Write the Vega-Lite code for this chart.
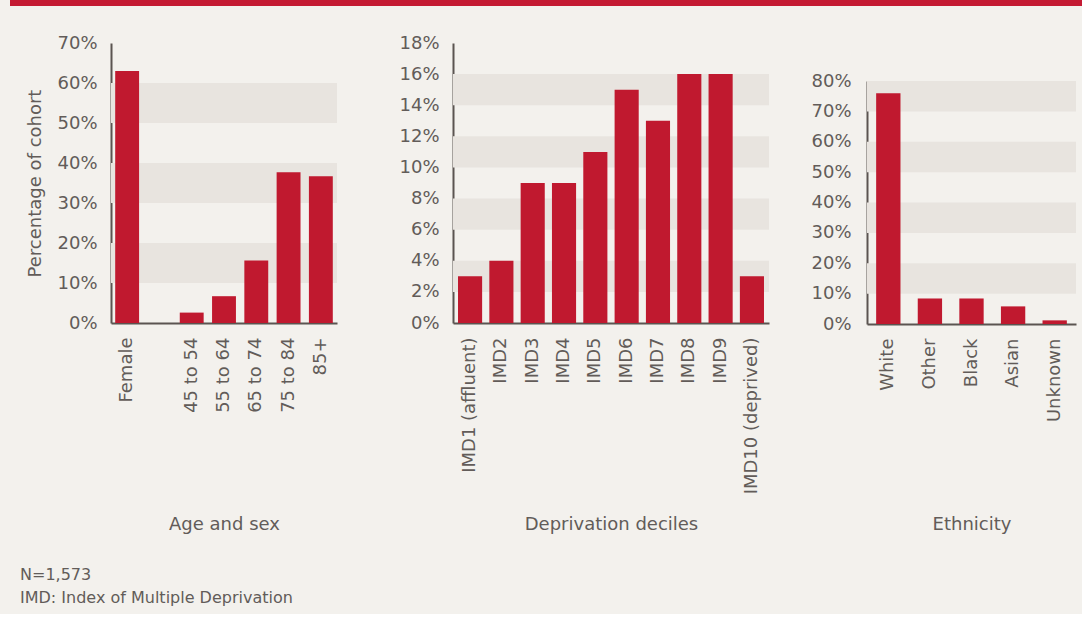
{
  "$schema": "https://vega.github.io/schema/vega-lite/v6.json",
  "background": "#f3f1ed",
  "padding": {"left": 10, "top": 0, "right": 0, "bottom": 8},
  "config": {
    "view": {"stroke": null},
    "font": "DejaVu Sans",
    "axis": {
      "labelFont": "DejaVu Sans",
      "labelFontSize": 18,
      "labelColor": "#625c59",
      "titleFont": "DejaVu Sans",
      "titleFontSize": 18,
      "titleFontWeight": "normal",
      "titleColor": "#625c59",
      "domainColor": "#5b5451",
      "domainWidth": 2,
      "ticks": false,
      "grid": false
    }
  },
  "title": {
    "text": ["N=1,573", "IMD: Index of Multiple Deprivation"],
    "orient": "bottom",
    "anchor": "start",
    "font": "DejaVu Sans",
    "fontSize": 16,
    "fontWeight": "normal",
    "lineHeight": 23,
    "color": "#625c59",
    "dx": 10,
    "offset": 34
  },
  "spacing": 28,
  "vconcat": [
    {
      "width": 1072,
      "height": 6,
      "view": {"fill": "#c41a33", "stroke": null},
      "data": {"values": []},
      "mark": "point",
      "encoding": {}
    },
    {
      "spacing": 0,
      "hconcat": [
        {"width": 16, "height": 10, "data": {"values": []}, "mark": "point", "encoding": {}},
        {
          "width": 226,
          "height": 280,
          "layer": [
            {
              "data": {"values": [{"lo": 10, "hi": 20}, {"lo": 30, "hi": 40}, {"lo": 50, "hi": 60}]},
              "mark": {"type": "rect", "color": "#e8e4df"},
              "encoding": {
                "y": {"field": "lo", "type": "quantitative", "scale": {"domain": [0, 70], "nice": false},
                  "axis": {"title": "Percentage of cohort", "values": [0, 10, 20, 30, 40, 50, 60, 70], "labelExpr": "datum.value + '%'", "labelPadding": 14, "titlePadding": 12}},
                "y2": {"field": "hi"}
              }
            },
            {
              "data": {"values": [
                {"group": "Female", "pct": 63},
                {"group": "45 to 54", "pct": 2.6},
                {"group": "55 to 64", "pct": 6.7},
                {"group": "65 to 74", "pct": 15.6},
                {"group": "75 to 84", "pct": 37.7},
                {"group": "85+", "pct": 36.7}
              ]},
              "mark": {"type": "bar", "color": "#c0192f"},
              "encoding": {
                "x": {"field": "group", "type": "nominal", "sort": null,
                  "scale": {"domain": ["Female", " ", "45 to 54", "55 to 64", "65 to 74", "75 to 84", "85+"], "paddingInner": 0.26, "paddingOuter": 0.13},
                  "axis": {"title": "Age and sex", "labelAngle": -90, "labelPadding": 14, "titleY": 201, "titleBaseline": "middle"}},
                "y": {"field": "pct", "type": "quantitative",
                  "axis": {"title": "Percentage of cohort", "values": [0, 10, 20, 30, 40, 50, 60, 70], "labelExpr": "datum.value + '%'", "labelPadding": 14, "titlePadding": 12}}
              }
            }
          ]
        },
        {"width": 61, "height": 10, "data": {"values": []}, "mark": "point", "encoding": {}},
        {
          "width": 316,
          "height": 280,
          "layer": [
            {
              "data": {"values": [{"lo": 2, "hi": 4}, {"lo": 6, "hi": 8}, {"lo": 10, "hi": 12}, {"lo": 14, "hi": 16}]},
              "mark": {"type": "rect", "color": "#e8e4df"},
              "encoding": {
                "y": {"field": "lo", "type": "quantitative", "scale": {"domain": [0, 18], "nice": false},
                  "axis": {"title": null, "values": [0, 2, 4, 6, 8, 10, 12, 14, 16, 18], "labelExpr": "datum.value + '%'", "labelPadding": 14}},
                "y2": {"field": "hi"}
              }
            },
            {
              "data": {"values": [
                {"decile": "IMD1 (affluent)", "pct": 3},
                {"decile": "IMD2", "pct": 4},
                {"decile": "IMD3", "pct": 9},
                {"decile": "IMD4", "pct": 9},
                {"decile": "IMD5", "pct": 11},
                {"decile": "IMD6", "pct": 15},
                {"decile": "IMD7", "pct": 13},
                {"decile": "IMD8", "pct": 16},
                {"decile": "IMD9", "pct": 16},
                {"decile": "IMD10 (deprived)", "pct": 3}
              ]},
              "mark": {"type": "bar", "color": "#c0192f"},
              "encoding": {
                "x": {"field": "decile", "type": "nominal", "sort": null,
                  "scale": {"paddingInner": 0.23, "paddingOuter": 0.16},
                  "axis": {"title": "Deprivation deciles", "labelAngle": -90, "labelPadding": 14, "titleY": 201, "titleBaseline": "middle"}},
                "y": {"field": "pct", "type": "quantitative",
                  "axis": {"title": null, "values": [0, 2, 4, 6, 8, 10, 12, 14, 16, 18], "labelExpr": "datum.value + '%'", "labelPadding": 14}}
              }
            }
          ]
        },
        {"width": 41, "height": 10, "data": {"values": []}, "mark": "point", "encoding": {}},
        {
          "spacing": 0,
          "vconcat": [
            {"width": 209, "height": 29, "data": {"values": []}, "mark": "point", "encoding": {}},
            {
              "width": 209,
              "height": 243,
              "layer": [
                {
                  "data": {"values": [{"lo": 10, "hi": 20}, {"lo": 30, "hi": 40}, {"lo": 50, "hi": 60}, {"lo": 70, "hi": 80}]},
                  "mark": {"type": "rect", "color": "#e8e4df"},
                  "encoding": {
                    "y": {"field": "lo", "type": "quantitative", "scale": {"domain": [0, 80], "nice": false},
                      "axis": {"title": null, "values": [0, 10, 20, 30, 40, 50, 60, 70, 80], "labelExpr": "datum.value + '%'", "labelPadding": 16}},
                    "y2": {"field": "hi"}
                  }
                },
                {
                  "data": {"values": [
                    {"ethnicity": "White", "pct": 76},
                    {"ethnicity": "Other", "pct": 8.4},
                    {"ethnicity": "Black", "pct": 8.4},
                    {"ethnicity": "Asian", "pct": 5.8},
                    {"ethnicity": "Unknown", "pct": 1.2}
                  ]},
                  "mark": {"type": "bar", "color": "#c0192f"},
                  "encoding": {
                    "x": {"field": "ethnicity", "type": "nominal", "sort": null,
                      "scale": {"paddingInner": 0.415, "paddingOuter": 0.22},
                      "axis": {"title": "Ethnicity", "labelAngle": -90, "labelPadding": 14, "titleY": 200, "titleBaseline": "middle"}},
                    "y": {"field": "pct", "type": "quantitative",
                      "axis": {"title": null, "values": [0, 10, 20, 30, 40, 50, 60, 70, 80], "labelExpr": "datum.value + '%'", "labelPadding": 16}}
                  }
                }
              ]
            }
          ]
        }
      ]
    }
  ]
}
